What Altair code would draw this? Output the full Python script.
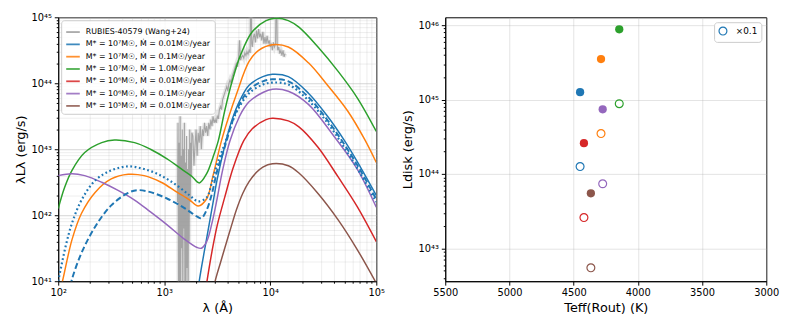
import altair as alt
import pandas as pd

# ---------------- left panel data (log10 lambda [Å], log10 lambda*L_lambda [erg/s]) ----------------
labels = [
    "RUBIES-40579 (Wang+24)",
    "M* = 10⁷M☉, Ṁ = 0.01M☉/year",
    "M* = 10⁷M☉, Ṁ = 0.1M☉/year",
    "M* = 10⁷M☉, Ṁ = 1.0M☉/year",
    "M* = 10⁶M☉, Ṁ = 0.01M☉/year",
    "M* = 10⁶M☉, Ṁ = 0.1M☉/year",
    "M* = 10⁵M☉, Ṁ = 0.01M☉/year",
]
colors = ["#999999", "#1f77b4", "#ff7f0e", "#2ca02c", "#d62728", "#9467bd", "#8c564b"]

green_lg = [2.0, 2.06, 2.13, 2.25, 2.41, 2.53, 2.72, 2.87, 3.03, 3.18, 3.26, 3.33, 3.40, 3.46, 3.51,
            3.57, 3.64, 3.72, 3.83, 3.96, 4.05, 4.17, 4.27, 4.45, 4.64, 4.82, 5.0]
green_lL = [42.10, 42.42, 42.68, 42.95, 43.10, 43.14, 43.10, 43.00, 42.85, 42.68, 42.59, 42.49, 42.63, 42.88, 43.13,
            43.58, 44.03, 44.43, 44.78, 44.95, 44.985, 44.95, 44.85, 44.55, 44.18, 43.78, 43.27]

orange_lg = [2.0, 2.04, 2.13, 2.22, 2.35, 2.50, 2.66, 2.81, 2.97, 3.12, 3.24, 3.32, 3.40, 3.46, 3.54,
             3.61, 3.68, 3.80, 3.89, 4.02, 4.17, 4.36, 4.54, 4.73, 4.89, 5.0]
orange_lL = [40.75, 41.0, 41.63, 42.03, 42.35, 42.55, 42.62, 42.60, 42.50, 42.35, 42.23, 42.14, 42.25, 42.60, 43.13,
             43.50, 43.83, 44.33, 44.50, 44.585, 44.55, 44.31, 43.97, 43.58, 43.15, 42.80]

blue_lg = [3.30, 3.33, 3.40, 3.45, 3.50, 3.57, 3.63, 3.69, 3.80, 3.93, 4.02, 4.17, 4.36, 4.54, 4.70, 4.85, 5.0]
blue_lL = [40.6, 41.0, 41.65, 42.1, 42.55, 43.05, 43.40, 43.66, 43.97, 44.10, 44.135, 44.10, 43.85, 43.50, 43.13, 42.73, 42.30]

dashed_lg = [2.10, 2.13, 2.22, 2.35, 2.50, 2.66, 2.75, 2.87, 3.03, 3.18, 3.31, 3.35, 3.40, 3.45, 3.50,
             3.57, 3.63, 3.69, 3.80, 3.93, 4.02, 4.17, 4.36, 4.54, 4.70, 4.85, 5.0]
dashed_lL = [40.8, 41.03, 41.43, 41.83, 42.15, 42.34, 42.38, 42.35, 42.25, 42.12, 41.98, 41.955, 42.08, 42.33, 42.68,
             43.03, 43.36, 43.62, 43.90, 44.03, 44.06, 44.03, 43.79, 43.44, 43.07, 42.68, 42.24]

dotted_lg = [2.0, 2.07, 2.13, 2.22, 2.35, 2.50, 2.66, 2.81, 2.97, 3.12, 3.24, 3.32, 3.40, 3.45, 3.50,
             3.57, 3.63, 3.69, 3.80, 3.93, 4.02, 4.17, 4.36, 4.54, 4.70, 4.85, 5.0]
dotted_lL = [41.0, 41.53, 41.88, 42.23, 42.53, 42.68, 42.74, 42.70, 42.60, 42.45, 42.30, 42.21, 42.27, 42.50, 42.78,
             43.08, 43.36, 43.59, 43.85, 43.98, 44.01, 43.98, 43.74, 43.40, 43.02, 42.63, 42.20]

purple_lg = [2.0, 2.13, 2.25, 2.41, 2.56, 2.72, 2.87, 3.03, 3.18, 3.31, 3.35, 3.40, 3.45, 3.49, 3.55,
             3.62, 3.71, 3.76, 3.80, 3.93, 4.02, 4.17, 4.36, 4.59, 4.82, 5.0]
purple_lL = [42.60, 42.63, 42.60, 42.50, 42.38, 42.23, 42.05, 41.85, 41.65, 41.51, 41.50, 41.60, 41.88, 42.18, 42.68,
             43.13, 43.50, 43.64, 43.72, 43.86, 43.91, 43.88, 43.68, 43.22, 42.70, 42.12]

red_lg = [3.37, 3.40, 3.45, 3.50, 3.57, 3.65, 3.75, 3.83, 3.96, 4.02, 4.17, 4.27, 4.45, 4.64, 4.82, 5.0]
red_lL = [40.65, 40.97, 41.45, 41.85, 42.27, 42.72, 43.13, 43.31, 43.45, 43.47, 43.43, 43.34, 43.03, 42.58, 42.13, 41.60]

brown_lg = [3.43, 3.48, 3.53, 3.585, 3.63, 3.68, 3.74, 3.80, 3.87, 3.93, 4.02, 4.17, 4.27, 4.45, 4.64, 4.82, 5.0]
brown_lL = [40.6, 41.0, 41.28, 41.58, 41.82, 42.08, 42.33, 42.51, 42.65, 42.73, 42.78, 42.75, 42.64, 42.33, 41.93, 41.48, 40.97]

spec_lg = [3.125, 3.13, 3.135, 3.14, 3.145, 3.15, 3.155, 3.16, 3.165, 3.17, 3.175, 3.18, 3.185, 3.19, 3.195,
           3.20, 3.205, 3.21, 3.215, 3.22, 3.225, 3.23, 3.235, 3.24, 3.245, 3.25, 3.255, 3.26,
           3.27, 3.28, 3.29, 3.30, 3.31, 3.32, 3.33, 3.34, 3.35, 3.36, 3.37, 3.38, 3.39, 3.40, 3.41,
           3.42, 3.43, 3.44, 3.45, 3.46, 3.47, 3.48,
           3.49, 3.50, 3.51, 3.52, 3.53, 3.54, 3.55, 3.56, 3.57, 3.58, 3.59, 3.60, 3.61, 3.62, 3.63,
           3.64, 3.65, 3.66, 3.67, 3.68, 3.69, 3.70, 3.71, 3.72, 3.73, 3.74, 3.75, 3.76, 3.77, 3.78,
           3.79, 3.80, 3.81, 3.815, 3.82, 3.825, 3.83, 3.84, 3.85, 3.86, 3.87, 3.88, 3.89, 3.90, 3.91,
           3.92, 3.93, 3.94, 3.95, 3.96, 3.97, 3.98, 3.99, 4.00, 4.01, 4.02, 4.03, 4.04, 4.05, 4.055,
           4.06, 4.065, 4.07, 4.08, 4.09, 4.10, 4.11, 4.12, 4.13, 4.14]
spec_lL = [42.2, 43.4, 40.5, 43.1, 41.0, 43.5, 40.8, 42.9, 41.5, 43.3, 40.6, 43.0, 41.8, 43.4, 40.5,
           42.8, 40.9, 43.2, 41.2, 42.7, 40.5, 43.0, 41.6, 43.3, 42.2, 43.1, 42.6, 43.25,
           43.2, 42.75, 43.05, 43.3, 42.9, 43.25, 43.1, 43.35, 43.0, 43.3, 43.2, 43.4, 43.25, 43.35, 43.2,
           43.4, 43.3, 43.45, 43.35, 43.5, 43.4, 43.45,
           43.4, 43.5, 43.46, 43.6, 43.65, 43.6, 43.75, 43.8, 43.85, 43.9, 43.95, 43.88, 44.0, 44.05, 44.0,
           44.1, 44.15, 44.2, 44.25, 44.3, 44.25, 44.36, 44.65, 44.35, 44.4, 44.42, 44.38, 44.46, 44.42, 44.48,
           44.44, 44.5, 44.46, 45.3, 45.2, 44.6, 44.55, 44.7, 44.75, 44.62, 44.8, 44.68, 44.82, 44.7, 44.75,
           44.65, 44.78, 44.6, 44.7, 44.6, 44.72, 44.6, 44.65, 44.55, 44.6, 44.5, 44.62, 44.55, 44.6, 45.3,
           45.3, 44.6, 44.5, 44.55, 44.45, 44.5, 44.42, 44.5, 44.4, 44.45]

# ---------------- right panel data ----------------
series = ["1e7_0.01", "1e7_0.1", "1e7_1.0", "1e6_0.01", "1e6_0.1", "1e5_0.01"]
series_colors = ["#1f77b4", "#ff7f0e", "#2ca02c", "#d62728", "#9467bd", "#8c564b"]
teff = [4450, 4287, 4145, 4420, 4274, 4366]
ldisk = [1.26e45, 3.5e45, 8.8e45, 2.6e44, 7.4e44, 5.5e43]
ldisk_scaled = [1.26e44, 3.5e44, 8.8e44, 2.6e43, 7.4e43, 5.5e42]


def curve(lg, lL, name):
    return pd.DataFrame({"lam": [10 ** v for v in lg], "L": [10 ** v for v in lL], "name": name})


solid = pd.concat([
    curve(blue_lg, blue_lL, labels[1]),
    curve(orange_lg, orange_lL, labels[2]),
    curve(green_lg, green_lL, labels[3]),
    curve(red_lg, red_lL, labels[4]),
    curve(purple_lg, purple_lL, labels[5]),
    curve(brown_lg, brown_lL, labels[6]),
])
spec = curve(spec_lg, spec_lL, labels[0])
dashed = curve(dashed_lg, dashed_lL, "dashed")
dotted = curve(dotted_lg, dotted_lL, "dotted")

FONT = "DejaVu Sans"
SMOOTH = "catmull-rom"
major_test = "abs(log(datum.value)/LN10 - round(log(datum.value)/LN10)) < 0.001"

x_vals = [m * 10 ** e for e in range(2, 5) for m in range(1, 10)] + [1e5]
y_vals = [m * 10 ** e for e in range(41, 45) for m in range(1, 10)] + [1e45]

x_lbl = ("datum.value==100?'10²':datum.value==1000?'10³':datum.value==10000?'10⁴':"
         "datum.value==100000?'10⁵':''")
y_lbl = ("datum.value==1e41?'10⁴¹':datum.value==1e42?'10⁴²':datum.value==1e43?'10⁴³':"
         "datum.value==1e44?'10⁴⁴':datum.value==1e45?'10⁴⁵':''")

grid_op = {"condition": {"test": major_test, "value": 0.55}, "value": 0.22}
tick_sz = {"condition": {"test": major_test, "value": 4}, "value": 2}

xL = alt.X("lam:Q", scale=alt.Scale(type="log", domain=[100, 1e5], nice=False),
           axis=alt.Axis(values=x_vals, labelExpr=x_lbl, title="λ (Å)", gridOpacity=grid_op,
                         tickSize=tick_sz, labelFlush=False, labelOverlap=False))
yL = alt.Y("L:Q", scale=alt.Scale(type="log", domain=[1e41, 1e45], nice=False),
           axis=alt.Axis(values=y_vals, labelExpr=y_lbl, title="λLλ (erg/s)", gridOpacity=grid_op,
                         tickSize=tick_sz, labelFlush=False, labelOverlap=False))

color_scale = alt.Scale(domain=labels, range=colors)
legend_left = alt.Legend(title=None, orient="top-left", offset=3, fillColor="rgba(255,255,255,0.85)",
                         strokeColor="#cccccc", cornerRadius=3, padding=4, labelFontSize=8,
                         labelFont=FONT, symbolType="stroke", symbolStrokeWidth=1.8, symbolSize=190,
                         rowPadding=0.5, labelOffset=5, labelLimit=300)

band = alt.Chart(spec).mark_line(color="#bbbbbb", strokeWidth=4, opacity=0.35, clip=True).encode(
    x=xL, y=yL, order="lam:Q")
spec_line = alt.Chart(spec).mark_line(strokeWidth=1.1, opacity=0.85, clip=True).encode(
    x=xL, y=yL, order="lam:Q", color=alt.Color("name:N", scale=color_scale, legend=legend_left))
solid_lines = alt.Chart(solid).mark_line(strokeWidth=1.5, clip=True, interpolate=SMOOTH).encode(
    x=xL, y=yL, order="lam:Q", color=alt.Color("name:N", scale=color_scale, legend=legend_left))
dash_line = alt.Chart(dashed).mark_line(strokeWidth=2, clip=True, interpolate=SMOOTH,
                                        strokeDash=[6, 3], color="#1f77b4").encode(x=xL, y=yL, order="lam:Q")
dot_line = alt.Chart(dotted).mark_line(strokeWidth=2.2, clip=True, interpolate=SMOOTH,
                                       strokeDash=[1.8, 2.6], color="#1f77b4").encode(x=xL, y=yL, order="lam:Q")

left = alt.layer(band, spec_line, solid_lines, dash_line, dot_line).properties(width=323, height=268)

# ---------------- right panel ----------------
pts = pd.DataFrame({"teff": teff, "ldisk": ldisk, "series": series})
opts = pd.DataFrame({"teff": teff, "ldisk": ldisk_scaled, "series": series, "kind": "×0.1"})

ry_vals = [m * 10 ** e for e in range(42, 46) for m in range(1, 10)] + [1e46]
ry_vals = [v for v in ry_vals if 3.63e42 <= v <= 1.27e46]
ry_lbl = ("datum.value==1e43?'10⁴³':datum.value==1e44?'10⁴⁴':datum.value==1e45?'10⁴⁵':"
          "datum.value==1e46?'10⁴⁶':''")
xR = alt.X("teff:Q", scale=alt.Scale(domain=[5500, 3000], nice=False, zero=False),
           axis=alt.Axis(values=[5500, 5000, 4500, 4000, 3500, 3000], format="d", title="Teff(Rout) (K)",
                         gridOpacity=0.35, tickSize=4, labelFlush=False))
yR = alt.Y("ldisk:Q", scale=alt.Scale(type="log", domain=[3.63e42, 1.276e46], nice=False),
           axis=alt.Axis(values=ry_vals, labelExpr=ry_lbl, title="Ldisk (erg/s)",
                         gridOpacity={"condition": {"test": major_test, "value": 0.35}, "value": 0},
                         tickSize=tick_sz, labelFlush=False, labelOverlap=False))
scol = alt.Scale(domain=series, range=series_colors)

filled = alt.Chart(pts).mark_circle(size=70, opacity=1).encode(
    x=xR, y=yR, color=alt.Color("series:N", scale=scol, legend=None))
opened = alt.Chart(opts).mark_point(size=64, filled=False, strokeWidth=1.2, opacity=1).encode(
    x=xR, y=yR, color=alt.Color("series:N", scale=scol, legend=None),
    shape=alt.Shape("kind:N", scale=alt.Scale(domain=["×0.1"], range=["circle"]),
                    legend=alt.Legend(title=None, orient="top-right", offset=5,
                                      fillColor="white", strokeColor="#cccccc", cornerRadius=3,
                                      padding=4, labelFontSize=9, labelFont=FONT,
                                      symbolStrokeColor="#1f77b4", symbolFillColor="transparent",
                                      symbolSize=64, symbolStrokeWidth=1.2, labelOffset=8)))
right = alt.layer(filled, opened).properties(width=326, height=268)

chart = alt.hconcat(left, right, spacing=15).resolve_scale(
    color="independent", shape="independent"
).properties(
    padding={"left": 5, "top": 1, "right": 5, "bottom": 5}
).configure_view(
    stroke="black", strokeWidth=1
).configure_axis(
    domainColor="black", tickColor="black", labelColor="black", labelFont=FONT, labelFontSize=10,
    titleFont=FONT, titleFontSize=13, titleFontWeight="normal", titleColor="black", gridColor="#b0b0b0",
    labelPadding=3
)

chart.save("out.html", embed_options={"renderer": "svg", "actions": False})
